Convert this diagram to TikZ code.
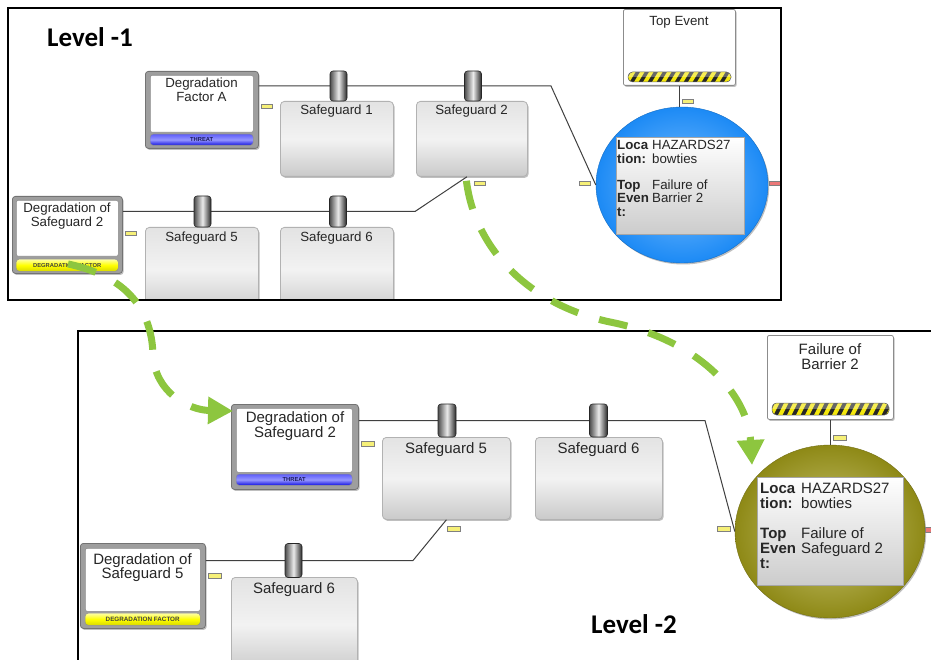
\documentclass[tikz,border=0pt]{standalone}
\usepackage{fontspec}
\setmainfont{Liberation Sans}
\newfontfamily\headfont{Carlito}
\usetikzlibrary{arrows.meta,shadows,calc,shapes.geometric}

\definecolor{flowgreen}{RGB}{141,198,63}
\definecolor{tagyellow}{RGB}{246,240,120}
\definecolor{tagred}{RGB}{235,120,120}
\definecolor{ballblue}{RGB}{28,138,245}
\definecolor{ballbluelight}{RGB}{125,192,255}
\definecolor{ballolive}{RGB}{142,137,22}
\definecolor{ballolivelight}{RGB}{204,200,120}
\definecolor{threatblue}{RGB}{20,20,225}
\definecolor{threatbluemid}{RGB}{95,95,250}
\definecolor{threatbluelight}{RGB}{150,150,255}
\definecolor{threatink}{RGB}{25,25,90}

\tikzset{
  wire/.style={draw=black!75, line width=1pt},
  softshadow/.style={drop shadow={shadow xshift=1.2pt, shadow yshift=-1.5pt, opacity=0.25, fill=black}},
  sgbox/.style={draw=black!30, line width=0.8pt, rounded corners=4pt,
    top color=black!11, bottom color=black!21, middle color=black!5,
    softshadow, anchor=north west, inner sep=0pt},
  threatframe/.style={draw=black!55, fill=black!38, line width=0.8pt, rounded corners=3pt,
    softshadow, anchor=north west, inner sep=0pt},
  pane/.style={draw=black!45, fill=white, line width=0.6pt, rounded corners=2pt,
    anchor=north west, inner sep=0pt},
  bluebar/.style={draw=black!45, line width=0.4pt, rounded corners=3pt, anchor=north west, inner sep=0pt,
    top color=threatbluemid, bottom color=threatblue, middle color=threatbluelight},
  yellowbar/.style={draw=black!45, line width=0.4pt, rounded corners=3pt, anchor=north west, inner sep=0pt,
    top color=yellow!35, bottom color=yellow!85!black, middle color=yellow},
  barlabel/.style={font=\fontsize{5.8}{6}\selectfont\bfseries, text=black!75, inner sep=0pt},
  threatlabel/.style={barlabel, text=threatink},
  eventbox/.style={draw=black!45, fill=white, line width=0.8pt, rounded corners=2pt,
    softshadow, anchor=north west, inner sep=0pt},
  barrel/.style={draw=black!85, line width=0.6pt, rounded corners=3pt, inner sep=0pt,
    left color=black!70, right color=black!85, middle color=black!8},
  tag/.style={draw=black!50, fill=tagyellow, line width=0.5pt, anchor=north west, inner sep=0pt},
  redtag/.style={tag, fill=tagred},
  infopane/.style={draw=black!35, line width=0.6pt, top color=white, bottom color=black!20,
    anchor=north west, inner sep=0pt},
  txa/.style={font=\fontsize{13.3}{15}\selectfont, text=black!85, inner sep=0pt, anchor=base},
  txb/.style={font=\fontsize{15}{17}\selectfont, text=black!85, inner sep=0pt, anchor=base},
  infoa/.style={txa, anchor=base west},
  infob/.style={txb, anchor=base west},
  levellabel/.style={font=\headfont\fontsize{27}{30}\selectfont\bfseries, anchor=base west, inner sep=0pt},
  flow/.style={draw=flowgreen, line width=7pt, dash pattern=on 29pt off 22pt,
    -{Triangle[length=25pt,width=26pt]}},
}

% striped black/yellow band: x, y (top), x, y (bottom)
\newcommand\hazardbar[4]{%
  \begin{scope}
    \clip[rounded corners=4.5pt] (#1,#2) rectangle (#3,#4);
    \fill[black!85] (#1,#2) rectangle (#3,#4);
    \foreach \s in {-12,-3,...,130}{
      \fill[yellow!95!black] ({#1+\s},#4) -- ({#1+\s+4.5},#4) -- ({#1+\s+10.5},#2) -- ({#1+\s+6},#2) -- cycle;}
    \fill[white,opacity=0.3] (#1,#2) rectangle (#3,{(#2+#4)/2});
  \end{scope}
  \draw[black!60, line width=0.5pt, rounded corners=4.5pt] (#1,#2) rectangle (#3,#4);}

\begin{document}
\begin{tikzpicture}[x=1pt,y=-1pt]
\useasboundingbox (0,0) rectangle (931,660);
\fill[white] (0,0) rectangle (931,660);

% ================= upper level =================
\begin{scope}
\clip (8,8) rectangle (781,300);

% threat: Degradation Factor A
\node[threatframe, minimum width=113pt, minimum height=77pt] (dfa1) at (145,71) {};
\node[pane, minimum width=103pt, minimum height=57pt] (dfa1p) at (150,75) {};
\node[bluebar, minimum width=103pt, minimum height=11pt] (dfa1b) at (150,134) {};
\node[threatlabel] (dfa1bl) at (dfa1b.center) {THREAT};
\node[txa] (dfa1t1) at (201.5,88) {Degradation};
\node[txa] (dfa1t2) at (201.5,101.5) {Factor A};

% degradation factor: Degradation of Safeguard 2
\node[threatframe, minimum width=110pt, minimum height=77pt] (dos1) at (12,196) {};
\node[pane, minimum width=102pt, minimum height=56pt] (dos1p) at (16,200) {};
\node[yellowbar, minimum width=102pt, minimum height=12pt] (dos1b) at (16,259) {};
\node[barlabel] (dos1bl) at (dos1b.center) {DEGRADATION FACTOR};
\node[txa] (dos1t1) at (67,213) {Degradation of};
\node[txa] (dos1t2) at (67,227) {Safeguard 2};

% safeguards
\node[sgbox, minimum width=113pt, minimum height=75pt] (sg1) at (280,101) {};
\node[txa] (sg1t) at (336.5,114.6) {Safeguard 1};
\node[sgbox, minimum width=111pt, minimum height=75pt] (sg2) at (416,101) {};
\node[txa] (sg2t) at (471.5,114.6) {Safeguard 2};
\node[sgbox, minimum width=113pt, minimum height=85pt] (sg5) at (145,227) {};
\node[txa] (sg5t) at (201.5,241.3) {Safeguard 5};
\node[sgbox, minimum width=113pt, minimum height=85pt] (sg6) at (280,227) {};
\node[txa] (sg6t) at (336.5,241.3) {Safeguard 6};

% top event
\node[eventbox, minimum width=112pt, minimum height=76pt] (top1) at (623,9) {};
\node[txa] (top1t) at (679,26) {Top Event};
\hazardbar{628}{72}{731}{82}

% hazard ball
\node[ellipse, minimum width=172pt, minimum height=156pt, inner sep=0pt,
      inner color=ballbluelight, outer color=ballblue, draw=ballblue!80!black, line width=0.4pt,
      softshadow] (ball1) at (682,185) {};
\node[infopane, minimum width=128pt, minimum height=97pt] (info1) at (616,137) {};
\node[infoa, font=\fontsize{13.3}{15}\selectfont\bfseries] (i1a) at (617,150) {Loca};
\node[infoa, font=\fontsize{13.3}{15}\selectfont\bfseries] (i1b) at (617,163.5) {tion:};
\node[infoa, font=\fontsize{13.3}{15}\selectfont\bfseries] (i1c) at (617,189.5) {Top};
\node[infoa, font=\fontsize{13.3}{15}\selectfont\bfseries] (i1d) at (617,203) {Even};
\node[infoa, font=\fontsize{13.3}{15}\selectfont\bfseries] (i1e) at (617,216.5) {t:};
\node[infoa] (i1f) at (652,150) {HAZARDS27};
\node[infoa] (i1g) at (652,163.5) {bowties};
\node[infoa] (i1h) at (652,189.5) {Failure of};
\node[infoa] (i1i) at (652,203) {Barrier 2};

% connectors
\coordinate (w1) at (338.5,86);
\coordinate (w2) at (473,86);
\coordinate (w5) at (202.5,211.5);
\coordinate (w6) at (338,211.5);
\coordinate (k1) at (551,86);
\coordinate (k2) at (415,211.5);
\draw[wire] (w1 -| dfa1.east) -- (k1) -- (ball1.west);
\draw[wire] (w5 -| dos1.east) -- (k2) -- ($(sg2.south)+(-5,0)$);
\draw[wire] (top1.south) -- (top1.south |- ball1.north);

% barriers on the lines
\node[barrel, minimum width=17pt, minimum height=30pt] (bar1) at (w1) {};
\node[barrel, minimum width=17pt, minimum height=30pt] (bar2) at (w2) {};
\node[barrel, minimum width=17pt, minimum height=31pt] (bar5) at (w5) {};
\node[barrel, minimum width=17pt, minimum height=31pt] (bar6) at (w6) {};

% port tags
\node[tag, minimum width=11pt, minimum height=4pt] (tg1) at (261,104) {};
\node[tag, minimum width=11pt, minimum height=4pt] (tg2) at (474,181) {};
\node[tag, minimum width=11pt, minimum height=4pt] (tg3) at (579,181) {};
\node[tag, minimum width=11pt, minimum height=4pt] (tg4) at (682,99) {};
\node[tag, minimum width=11pt, minimum height=4pt] (tg5) at (125,231) {};
\node[redtag, minimum width=12pt, minimum height=4pt] (tg6) at (769,181) {};
\end{scope}

\draw[line width=1.5pt] (8,8) rectangle (781,300);
\node[levellabel] (lvl1) at (47,46.5) {Level -1};

% ================= lower level =================
\begin{scope}
\clip (78,331) rectangle (935,664);

% threat: Degradation of Safeguard 2
\node[threatframe, minimum width=127pt, minimum height=85pt] (dos2) at (231,404) {};
\node[pane, minimum width=116pt, minimum height=64pt] (dos2p) at (236,408) {};
\node[bluebar, minimum width=116pt, minimum height=11pt] (dos2b) at (236,474) {};
\node[threatlabel] (dos2bl) at (dos2b.center) {THREAT};
\node[txb] (dos2t1) at (295,422) {Degradation of};
\node[txb] (dos2t2) at (295,437) {Safeguard 2};

% degradation factor: Degradation of Safeguard 5
\node[threatframe, minimum width=125pt, minimum height=85pt] (dos5) at (80,543) {};
\node[pane, minimum width=115pt, minimum height=63pt] (dos5p) at (85,548) {};
\node[yellowbar, minimum width=115pt, minimum height=12pt] (dos5b) at (85,613) {};
\node[barlabel, font=\fontsize{6.3}{7}\selectfont\bfseries] (dos5bl) at (dos5b.center) {DEGRADATION FACTOR};
\node[txb] (dos5t1) at (142.5,564) {Degradation of};
\node[txb] (dos5t2) at (142.5,578.5) {Safeguard 5};

% safeguards
\node[sgbox, minimum width=128pt, minimum height=82pt] (sg5b) at (382,437) {};
\node[txb] (sg5bt) at (446,453) {Safeguard 5};
\node[sgbox, minimum width=127pt, minimum height=82pt] (sg6b) at (535,437) {};
\node[txb] (sg6bt) at (598.5,453) {Safeguard 6};
\node[sgbox, minimum width=126pt, minimum height=95pt] (sg6c) at (231,577) {};
\node[txb] (sg6ct) at (294,593) {Safeguard 6};

% top event
\node[eventbox, minimum width=126pt, minimum height=84pt] (top2) at (767,335) {};
\node[txb] (top2t1) at (830,354) {Failure of};
\node[txb] (top2t2) at (830,369) {Barrier 2};
\hazardbar{772}{403}{889}{415}

% hazard ball
\node[ellipse, minimum width=190pt, minimum height=173pt, inner sep=0pt,
      inner color=ballolivelight, outer color=ballolive, draw=ballolive!80!black, line width=0.4pt,
      softshadow] (ball2) at (830,531.5) {};
\node[infopane, minimum width=146pt, minimum height=108pt] (info2) at (757,477) {};
\node[infob, font=\fontsize{15}{17}\selectfont\bfseries] (i2a) at (760,493) {Loca};
\node[infob, font=\fontsize{15}{17}\selectfont\bfseries] (i2b) at (760,508) {tion:};
\node[infob, font=\fontsize{15}{17}\selectfont\bfseries] (i2c) at (760,538) {Top};
\node[infob, font=\fontsize{15}{17}\selectfont\bfseries] (i2d) at (760,553) {Even};
\node[infob, font=\fontsize{15}{17}\selectfont\bfseries] (i2e) at (760,568) {t:};
\node[infob] (i2f) at (801,493) {HAZARDS27};
\node[infob] (i2g) at (801,508) {bowties};
\node[infob] (i2h) at (801,538) {Failure of};
\node[infob] (i2i) at (801,553) {Safeguard 2};

% connectors
\coordinate (v5) at (447,420.5);
\coordinate (v6) at (598.5,420.5);
\coordinate (v7) at (293.5,560.5);
\coordinate (k3) at (705,420.5);
\coordinate (k4) at (413,560.5);
\draw[wire] (v5 -| dos2.east) -- (k3) -- (ball2.west);
\draw[wire] (v7 -| dos5.east) -- (k4) -- (sg5b.south);
\draw[wire] (top2.south) -- (top2.south |- ball2.north);

% barriers on the lines
\node[barrel, minimum width=18pt, minimum height=33pt] (bar5b) at (v5) {};
\node[barrel, minimum width=18pt, minimum height=33pt] (bar6b) at (v6) {};
\node[barrel, minimum width=17pt, minimum height=34pt] (bar6c) at (v7) {};

% port tags
\node[tag, minimum width=13pt, minimum height=4.5pt] (tg7) at (361,441) {};
\node[tag, minimum width=13pt, minimum height=4.5pt] (tg8) at (447,526) {};
\node[tag, minimum width=13pt, minimum height=4.5pt] (tg9) at (717,526) {};
\node[tag, minimum width=13pt, minimum height=4.5pt] (tg10) at (833,435) {};
\node[tag, minimum width=13pt, minimum height=4.5pt] (tg11) at (208,573) {};
\node[redtag, minimum width=13pt, minimum height=4.5pt] (tg12) at (925,527) {};
\end{scope}

\draw[line width=1.5pt] (78,662) -- (78,331) -- (933,331);
\node[levellabel] (lvl2) at (591,633) {Level -2};

% ================= drill-down links =================
\coordinate (f1s) at (68,264);
\coordinate (f2s) at ($(sg2.south)+(-5.5,4)$);
\draw[flow] (f1s) .. controls (135,278) and (152,318) .. (153,355)
                  .. controls (155,392) and (188,410) .. ($(dos2.north west)+(2,7)$);
\draw[flow] (f2s) .. controls (475,250) and (530,305) .. (610,322)
                  .. controls (700,340) and (748,395) .. ($(ball2.center)+(-78,-66.5)$);
\end{tikzpicture}
\end{document}
